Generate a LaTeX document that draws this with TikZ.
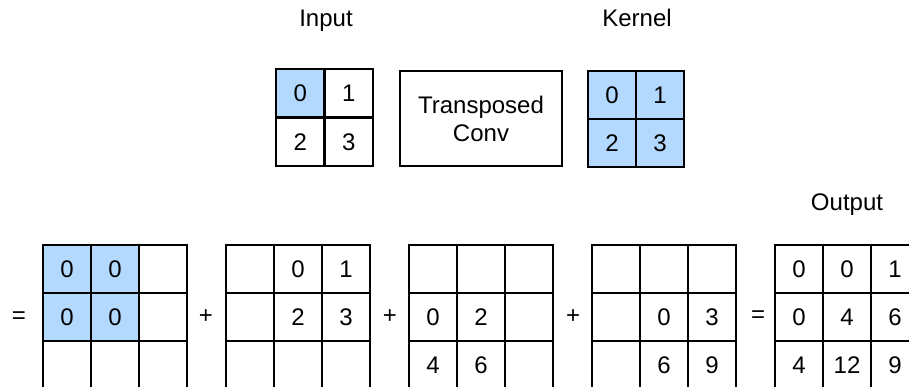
\documentclass[tikz,border=0pt]{standalone}
\usepackage{fontspec}
\setmainfont{Liberation Sans}
\definecolor{cellblue}{RGB}{179,217,255}
\begin{document}
\begin{tikzpicture}[x=1pt,y=-1pt,
  cell/.style={draw, line width=2.7pt, minimum size=48pt, inner sep=0pt, font=\fontsize{24}{28}\selectfont},
  hl/.style={fill=cellblue},
  pl/.style={},
  lbl/.style={font=\fontsize{24}{28}\selectfont, anchor=base},
  op/.style={font=\fontsize{24}{28}\selectfont, inner sep=0pt},
  convbox/.style={draw, line width=2.7pt, minimum width=162pt, minimum height=95pt, align=center, font=\fontsize{24}{28}\selectfont}]
\useasboundingbox (0,0) rectangle (909,387);
\clip (0,0) rectangle (909,387);
% top row
\node[lbl] (inlbl) at (326,27) {Input};
\node[lbl] (klbl) at (637,27) {Kernel};
\foreach \r/\c/\t/\s in {1/1/0/hl,1/2/1/pl,2/1/2/pl,2/2/3/pl}{
  \node[cell,\s,minimum size=48.5pt] (in\r\c) at ({276+24.25+48.5*(\c-1)},{69+24.25+48.5*(\r-1)}) {\t};
}
\node[convbox] (tc) at (481,118.5) {Transposed\\Conv};
\foreach \r/\c/\t in {1/1/0,1/2/1,2/1/2,2/2/3}{
  \node[cell,hl] (k\r\c) at ({588+24+48*(\c-1)},{71+24+48*(\r-1)}) {\t};
}
% bottom row
\node[lbl] (outlbl) at (847,211) {Output};
% grid 1
\foreach \r/\c/\t/\s in {1/1/0/hl,1/2/0/hl,1/3//pl,2/1/0/hl,2/2/0/hl,2/3//pl,3/1//pl,3/2//pl,3/3//pl}{
  \node[cell,\s] (a\r\c) at ({43+24+48*(\c-1)},{245+24+48*(\r-1)}) {\t};
}
% grid 2
\foreach \r/\c/\t in {1/1/,1/2/0,1/3/1,2/1/,2/2/2,2/3/3,3/1/,3/2/,3/3/}{
  \node[cell] (b\r\c) at ({226+24+48*(\c-1)},{245+24+48*(\r-1)}) {\t};
}
% grid 3
\foreach \r/\c/\t in {1/1/,1/2/,1/3/,2/1/0,2/2/2,2/3/,3/1/4,3/2/6,3/3/}{
  \node[cell] (c\r\c) at ({409+24+48*(\c-1)},{245+24+48*(\r-1)}) {\t};
}
% grid 4
\foreach \r/\c/\t in {1/1/,1/2/,1/3/,2/1/,2/2/0,2/3/3,3/1/,3/2/6,3/3/9}{
  \node[cell] (d\r\c) at ({592+24+48*(\c-1)},{245+24+48*(\r-1)}) {\t};
}
% output grid
\foreach \r/\c/\t in {1/1/0,1/2/0,1/3/1,2/1/0,2/2/4,2/3/6,3/1/4,3/2/12,3/3/9}{
  \node[cell] (e\r\c) at ({775+24+48*(\c-1)},{245+24+48*(\r-1)}) {\t};
}
% operators
\node[op] (eq1) at (19,318) {=};
\node[op] (p1) at (206,317) {+};
\node[op] (p2) at (390,317) {+};
\node[op] (p3) at (573,317) {+};
\node[op] (eq2) at (758,317) {=};
\end{tikzpicture}
\end{document}
